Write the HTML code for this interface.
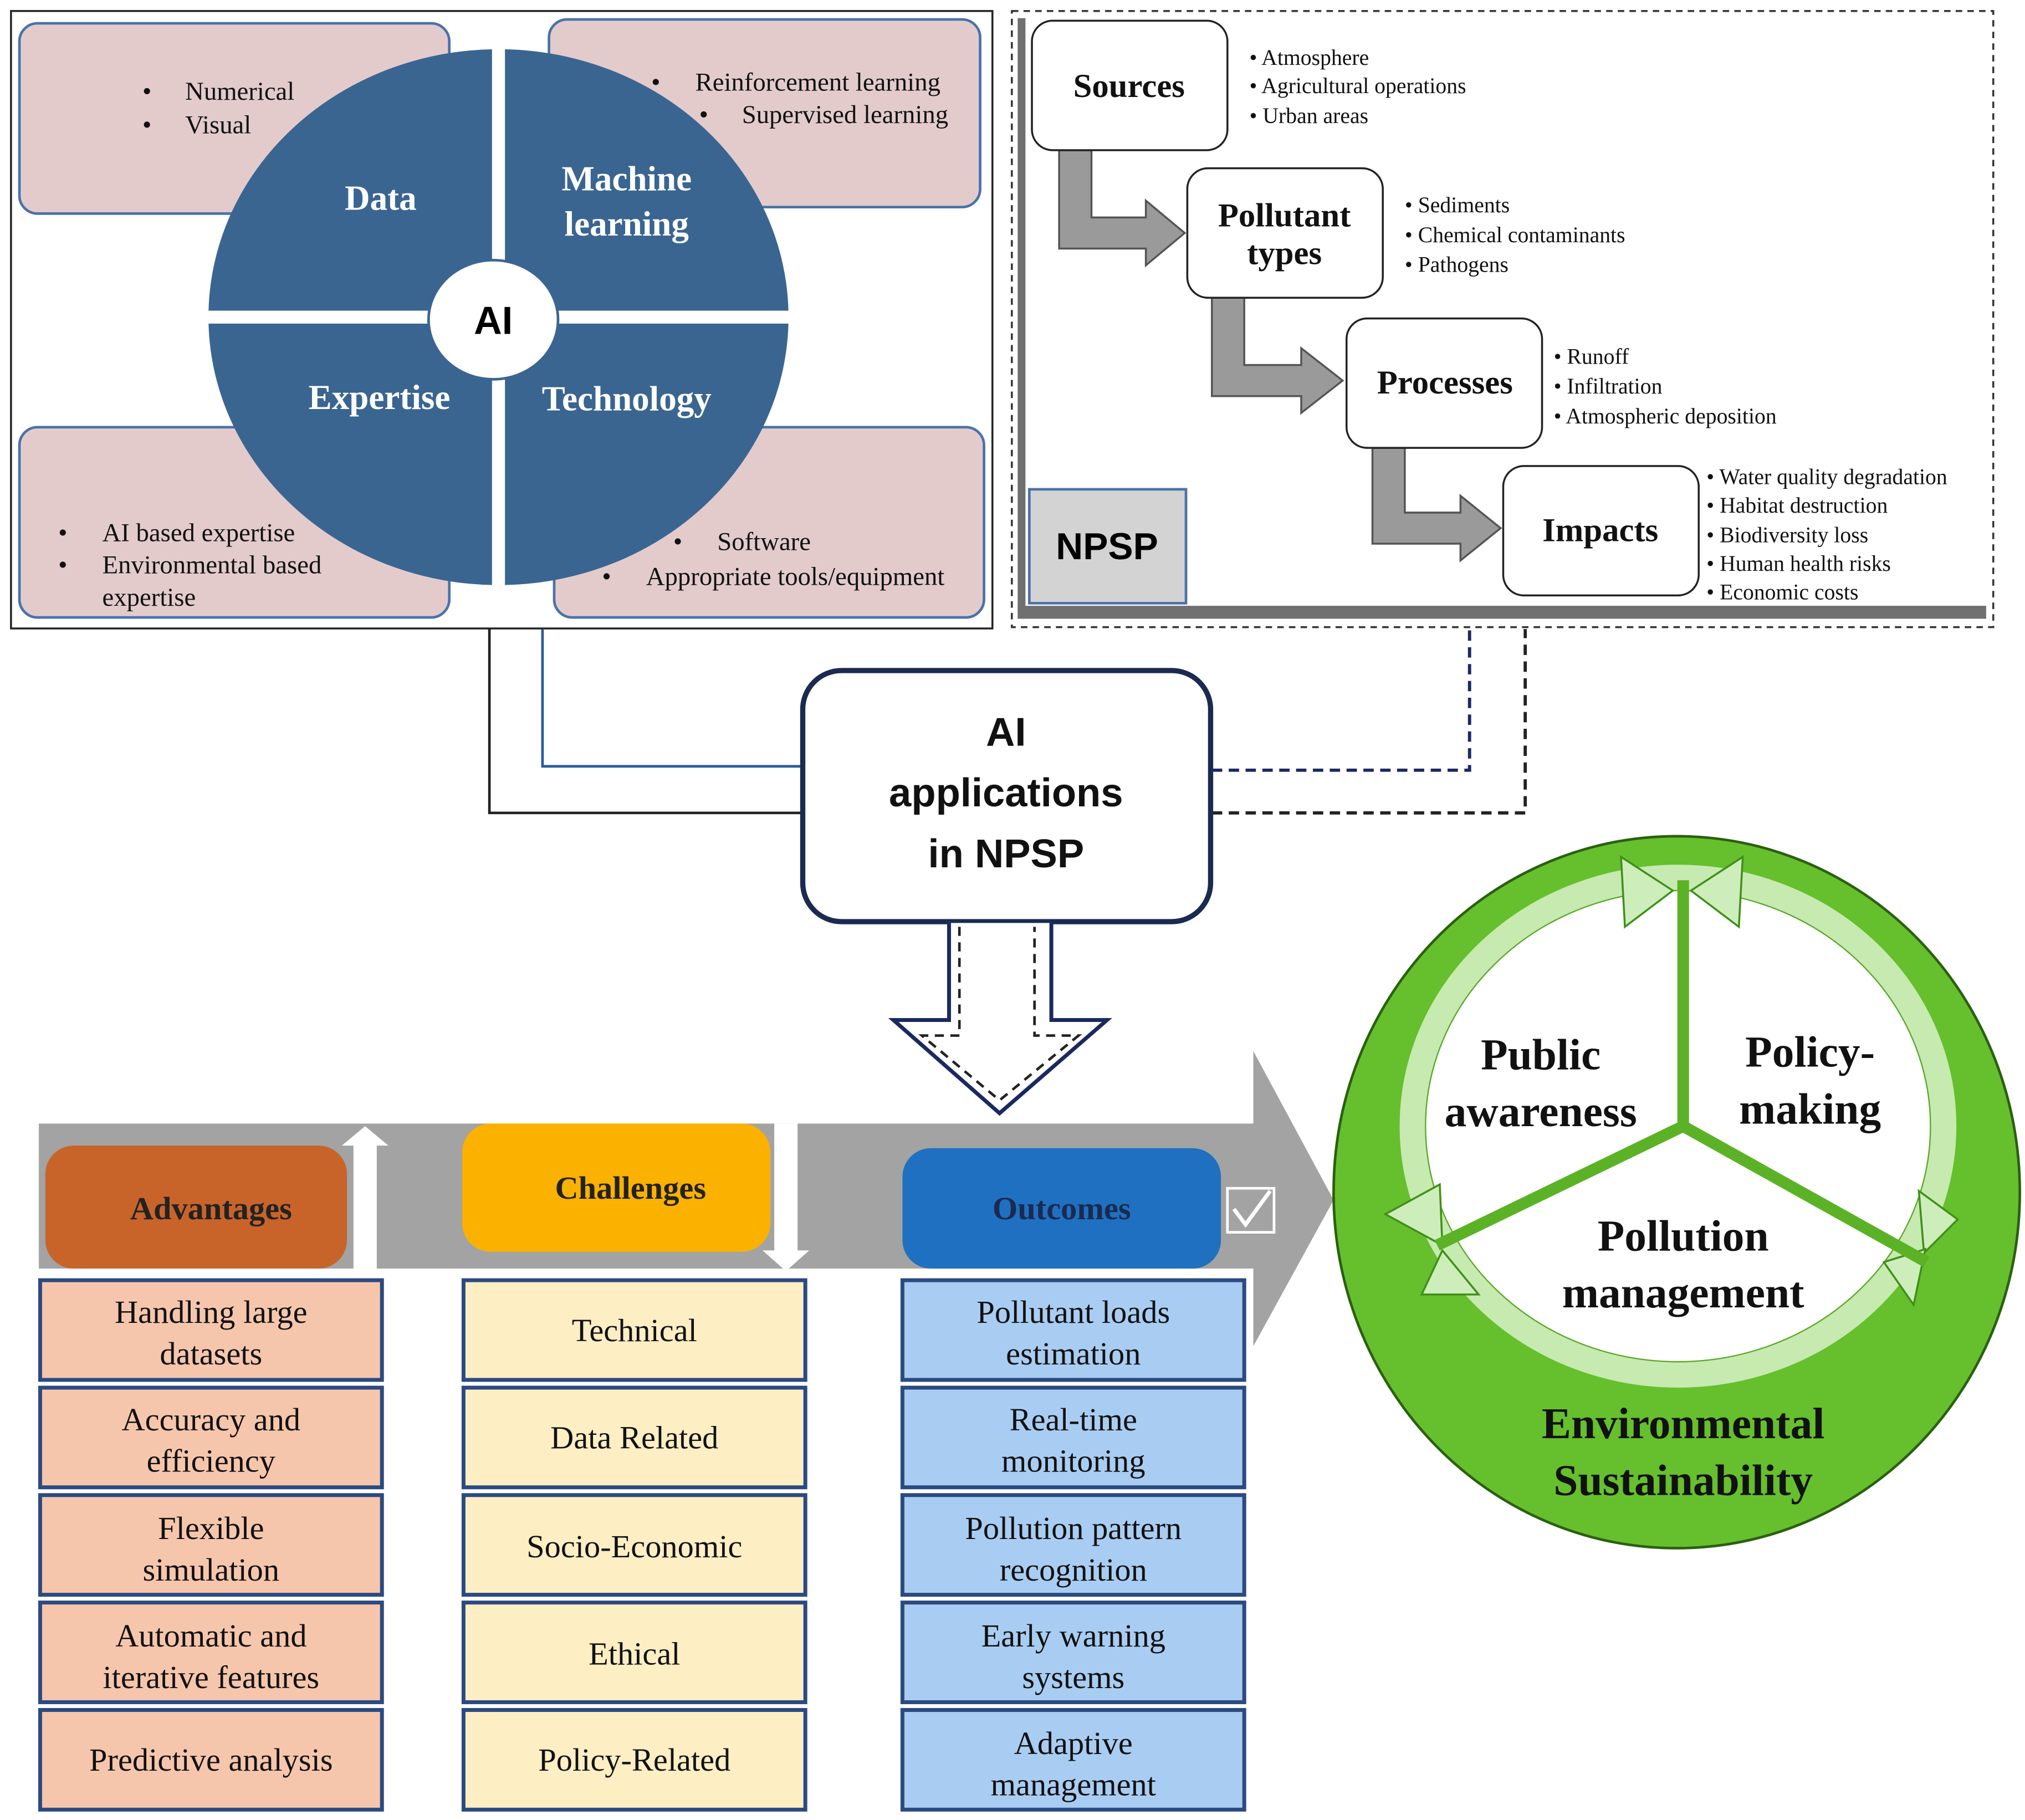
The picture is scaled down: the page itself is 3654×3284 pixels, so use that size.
<!DOCTYPE html>
<html><head><meta charset="utf-8"><style>
html,body{margin:0;padding:0;background:#fff;}
svg{display:block;}
.s{font-family:"Liberation Serif",serif;}
.a{font-family:"Liberation Sans",sans-serif;}
</style></head><body>
<svg width="3654" height="3284" viewBox="0 0 1564 1406" preserveAspectRatio="none" xmlns="http://www.w3.org/2000/svg">
<rect width="1564" height="1406" fill="#fff"/>
<!-- Left AI panel -->
<rect x="8.5" y="8.5" width="758" height="477" fill="#fff" stroke="#222" stroke-width="1.5"/>
<g fill="#e3cbcc" stroke="#4a72aa" stroke-width="2">
<rect x="15" y="18" width="332" height="147" rx="14"/>
<rect x="424" y="15" width="333" height="145" rx="14"/>
<rect x="15" y="330" width="332" height="147" rx="14"/>
<rect x="428" y="330" width="332" height="147" rx="14"/>
</g>
<ellipse cx="385" cy="245" rx="224" ry="207" fill="#3a6591"/>
<rect x="380" y="35" width="10" height="420" fill="#fff"/>
<rect x="155" y="240" width="460" height="10" fill="#fff"/>
<ellipse cx="381" cy="247" rx="50" ry="46" fill="#fff" stroke="#3a6591" stroke-width="2"/>
<text x="381" y="258" class="a" font-size="30" font-weight="bold" text-anchor="middle">AI</text>
<g class="s" font-size="27" font-weight="bold" fill="#fff" text-anchor="middle">
<text x="294" y="162">Data</text>
<text x="484" y="147">Machine</text><text x="484" y="182">learning</text>
<text x="293" y="316">Expertise</text>
<text x="484" y="317">Technology</text>
</g>
<g class="s" font-size="20" fill="#111">
<text x="110" y="77">•</text><text x="143" y="77">Numerical</text>
<text x="110" y="103">•</text><text x="143" y="103">Visual</text>
<text x="503" y="70">•</text><text x="537" y="70">Reinforcement learning</text>
<text x="540" y="95">•</text><text x="573" y="95">Supervised learning</text>
<text x="45" y="418">•</text><text x="79" y="418">AI based expertise</text>
<text x="45" y="443">•</text><text x="79" y="443">Environmental based</text>
<text x="79" y="468">expertise</text>
<text x="520" y="425">•</text><text x="554" y="425">Software</text>
<text x="465" y="452">•</text><text x="499" y="452">Appropriate tools/equipment</text>
</g>
<!-- NPSP panel -->
<rect x="781.5" y="8.5" width="758" height="476" fill="#fff" stroke="#333" stroke-width="1.5" stroke-dasharray="5,4"/>
<rect x="786" y="14" width="6" height="460" fill="#707070"/>
<rect x="786" y="468" width="748" height="10" fill="#707070"/>
<rect x="795" y="378" width="121" height="88" fill="#d3d3d3" stroke="#4a72aa" stroke-width="2"/>
<text x="855" y="432" class="a" font-size="29" font-weight="bold" text-anchor="middle">NPSP</text>
<g fill="#9a9a9a" stroke="#555" stroke-width="1.5">
<path d="M818 116 H843 V168 H885 V155 L915 180 L885 205 V192 H818 Z"/>
<path d="M936 230 H961 V282 H1005 V269 L1037 294 L1005 319 V306 H936 Z"/>
<path d="M1060 346 H1085 V396 H1128 V383 L1159 408 L1128 433 V420 H1060 Z"/>
</g>
<g fill="#fff" stroke="#222" stroke-width="1.5">
<rect x="797" y="16" width="151" height="100" rx="16"/>
<rect x="917" y="130" width="151" height="100" rx="16"/>
<rect x="1040" y="246" width="151" height="100" rx="16"/>
<rect x="1161" y="360" width="151" height="100" rx="16"/>
</g>
<g class="s" font-size="26" font-weight="bold" text-anchor="middle" fill="#111">
<text x="872" y="75">Sources</text>
<text x="992" y="175">Pollutant</text><text x="992" y="204">types</text>
<text x="1116" y="304">Processes</text>
<text x="1236" y="418">Impacts</text>
</g>
<g class="s" font-size="17" fill="#111">
<text x="965" y="50">• Atmosphere</text>
<text x="965" y="72">• Agricultural operations</text>
<text x="965" y="95">• Urban areas</text>
<text x="1085" y="164">• Sediments</text>
<text x="1085" y="187">• Chemical contaminants</text>
<text x="1085" y="210">• Pathogens</text>
<text x="1200" y="281">• Runoff</text>
<text x="1200" y="304">• Infiltration</text>
<text x="1200" y="327">• Atmospheric deposition</text>
<text x="1318" y="374">• Water quality degradation</text>
<text x="1318" y="396">• Habitat destruction</text>
<text x="1318" y="419">• Biodiversity loss</text>
<text x="1318" y="441">• Human health risks</text>
<text x="1318" y="463">• Economic costs</text>
</g>
<!-- connectors -->
<path d="M378 486 V628 H620" fill="none" stroke="#222" stroke-width="2"/>
<path d="M419 486 V592 H620" fill="none" stroke="#2a5a9a" stroke-width="2"/>
<path d="M936 595 H1135 V486" fill="none" stroke="#1a2a60" stroke-width="2.5" stroke-dasharray="8,5"/>
<path d="M936 628 H1178 V486" fill="none" stroke="#222" stroke-width="2.5" stroke-dasharray="8,5"/>
<!-- AI apps box -->
<rect x="620" y="518" width="315" height="194" rx="30" fill="#fff" stroke="#1a2a50" stroke-width="4"/>
<g class="a" font-size="31" font-weight="bold" text-anchor="middle" fill="#111">
<text x="777" y="576">AI</text><text x="777" y="623">applications</text><text x="777" y="670">in NPSP</text>
</g>
<!-- down arrow -->
<path d="M733 713 V788 H690 L772 860 L855 788 H812 V713" fill="#fff" stroke="#1a2a60" stroke-width="3"/>
<path d="M741 716 V800 H712 L772 850 L833 800 H799 V716" fill="none" stroke="#222" stroke-width="2" stroke-dasharray="7,5"/>
<!-- gray band -->
<path d="M30 868 H968 V812 L1030 927 L968 1040 V980 H30 Z" fill="#a3a3a3"/>
<rect x="35" y="885" width="233" height="95" rx="22" fill="#c8642a"/>
<path d="M282 870 L300 885 H291 V980 H273 V885 H264 Z" fill="#fff"/>
<rect x="357" y="868" width="238" height="99" rx="22" fill="#fbb100"/>
<path d="M598 868 H616 V966 H625 L607 982 L589 966 H598 Z" fill="#fff"/>
<rect x="697" y="887" width="246" height="93" rx="22" fill="#1f70c0"/>
<rect x="948" y="918" width="36" height="34" fill="none" stroke="#fff" stroke-width="2"/>
<path d="M953 934 L962 946 L981 920" fill="none" stroke="#fff" stroke-width="3"/>
<g class="s" font-size="25" font-weight="bold" text-anchor="middle" fill="#222">
<text x="163" y="942">Advantages</text>
<text x="487" y="926">Challenges</text>
<text x="820" y="942" fill="#1a2a50">Outcomes</text>
</g>
<!-- columns -->
<g stroke="#2b4a80" stroke-width="3">
<g fill="#f6c6ac">
<rect x="31" y="989" width="264" height="77"/><rect x="31" y="1072" width="264" height="77"/><rect x="31" y="1155" width="264" height="77"/><rect x="31" y="1238" width="264" height="77"/><rect x="31" y="1321" width="264" height="77"/>
</g>
<g fill="#fdeec4">
<rect x="358" y="989" width="264" height="77"/><rect x="358" y="1072" width="264" height="77"/><rect x="358" y="1155" width="264" height="77"/><rect x="358" y="1238" width="264" height="77"/><rect x="358" y="1321" width="264" height="77"/>
</g>
<g fill="#a9cdf2">
<rect x="697" y="989" width="264" height="77"/><rect x="697" y="1072" width="264" height="77"/><rect x="697" y="1155" width="264" height="77"/><rect x="697" y="1238" width="264" height="77"/><rect x="697" y="1321" width="264" height="77"/>
</g>
</g>
<g class="s" font-size="25" text-anchor="middle" fill="#111">
<text x="163" y="1022">Handling large</text><text x="163" y="1054">datasets</text>
<text x="163" y="1105">Accuracy and</text><text x="163" y="1137">efficiency</text>
<text x="163" y="1189">Flexible</text><text x="163" y="1221">simulation</text>
<text x="163" y="1272">Automatic and</text><text x="163" y="1304">iterative features</text>
<text x="163" y="1368">Predictive analysis</text>
<text x="490" y="1036">Technical</text>
<text x="490" y="1119">Data Related</text>
<text x="490" y="1203">Socio-Economic</text>
<text x="490" y="1286">Ethical</text>
<text x="490" y="1368">Policy-Related</text>
<text x="829" y="1022">Pollutant loads</text><text x="829" y="1054">estimation</text>
<text x="829" y="1105">Real-time</text><text x="829" y="1137">monitoring</text>
<text x="829" y="1189">Pollution pattern</text><text x="829" y="1221">recognition</text>
<text x="829" y="1272">Early warning</text><text x="829" y="1304">systems</text>
<text x="829" y="1355">Adaptive</text><text x="829" y="1387">management</text>
</g>
<!-- green circle -->
<ellipse cx="1295" cy="921" rx="265" ry="275" fill="#66bf2c" stroke="#2a6010" stroke-width="2"/>
<ellipse cx="1296" cy="870" rx="213" ry="200" fill="#fff"/>
<ellipse cx="1296" cy="870" rx="205" ry="192" fill="none" stroke="#c6eab0" stroke-width="20"/>
<ellipse cx="1296" cy="870" rx="195" ry="182" fill="none" stroke="#5aa828" stroke-width="1"/>
<g fill="#cdeebb" stroke="#3f8f1a" stroke-width="1.5">
<path d="M1252 662 L1292 688 L1255 716 Z"/>
<path d="M1346 662 L1306 688 L1343 716 Z"/>
<path d="M1070 938 L1114 962 L1112 915 Z"/>
<path d="M1512 942 L1486 968 L1482 920 Z"/>
<path d="M1098 1000 L1114 966 L1142 1000 Z"/>
<path d="M1487 965 L1455 975 L1478 1008 Z"/>
</g>
<g stroke="#5cb226" stroke-width="9" fill="none">
<path d="M1300 680 V870 L1110 962"/>
<path d="M1300 870 L1488 975"/>
</g>
<g class="s" font-size="34" font-weight="bold" text-anchor="middle" fill="#111">
<text x="1190" y="826">Public</text><text x="1190" y="870">awareness</text>
<text x="1398" y="824">Policy-</text><text x="1398" y="868">making</text>
<text x="1300" y="966">Pollution</text><text x="1300" y="1010">management</text>
<text x="1300" y="1111">Environmental</text><text x="1300" y="1155">Sustainability</text>
</g>
</svg>
</body></html>
